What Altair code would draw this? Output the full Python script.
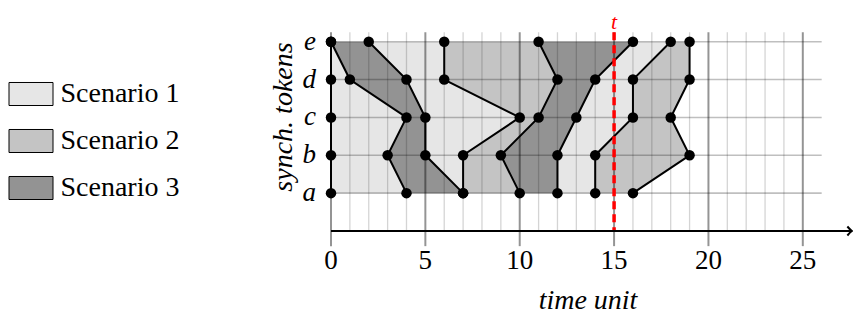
import altair as alt
import pandas as pd

FONT = "Liberation Serif"

# ---- data ----
tokens = ["a", "b", "c", "d", "e"]
# each front: x position (time unit) of the point on rows a, b, c, d, e
fronts = [
    [0, 0, 0, 0, 0],
    [4, 3, 4, 1, 0],
    [7, 5, 5, 4, 2],
    [7, 7, 10, 6, 6],
    [10, 9, 11, 12, 11],
    [12, 12, 13, 14, 16],
    [14, 14, 16, 16, 18],
    [16, 19, 18, 19, 19],
]
scenarios = ["Scenario 1", "Scenario 2", "Scenario 3"]
scenario_colors = ["#e6e6e6", "#c4c4c4", "#939393"]
base_band = (0, 7, "Scenario 1")
bands = [(1, 2, "Scenario 3"), (3, 4, "Scenario 2"), (4, 5, "Scenario 3"), (6, 7, "Scenario 2")]
t_marker = 15
major_ticks = [0, 5, 10, 15, 20, 25]
minor_ticks = [1, 2, 3, 4, 6, 7, 8, 9, 11, 12, 13, 14, 16, 17, 18, 19, 21, 22, 23, 24]
grid_x_end = 26
grid_top = 5.25
major_bottom = -0.4
axis_end = 27.6
x_title = "time unit"
y_title = "synch. tokens"

# ---- tables ----
rows = list(range(1, len(tokens) + 1))
pts = pd.DataFrame([
    {"front": f, "row": r + 1, "x": x}
    for f, arr in enumerate(fronts) for r, x in enumerate(arr)
])


def band_table(spec_list):
    out = []
    for i, (l, rr, sc) in enumerate(spec_list):
        for r in range(len(tokens)):
            out.append({"band": i, "scenario": sc, "row": r + 1,
                        "xl": fronts[l][r], "xr": fronts[rr][r]})
    return pd.DataFrame(out)


base_df = band_table([base_band])
over_df = band_table(bands)
minor_df = pd.DataFrame({"x": minor_ticks, "y0": 0, "y1": grid_top})
major_df = pd.DataFrame({"x": major_ticks, "y0": major_bottom, "y1": grid_top,
                         "label": [str(v) for v in major_ticks]})
hgrid_df = pd.DataFrame({"y": rows, "x0": 0, "x1": grid_x_end, "label": tokens})
t_df = pd.DataFrame({"x": [t_marker], "y0": [grid_top], "y1": [0], "label": ["t"]})
axis_df = pd.DataFrame({"x0": [0], "x1": [axis_end], "y": [0]})
title_df = pd.DataFrame({"label": [x_title]})
ytitle_df = pd.DataFrame({"label": [y_title]})

XS = alt.Scale(domain=[0, 27.66], nice=False, zero=False)
YS = alt.Scale(domain=[0, 5.6], nice=False, zero=False)
FS = alt.Scale(domain=scenarios, range=scenario_colors)

legend = alt.Legend(title=None, orient="none", legendX=-322.5, legendY=52.5,
                    symbolType="M-1,-0.523H1V0.523H-1Z", symbolSize=1936,
                    symbolStrokeColor="black", symbolStrokeWidth=1, symbolOpacity=1,
                    labelFont=FONT, labelFontSize=28, labelColor="black", labelOffset=7,
                    rowPadding=10, padding=0)


def X(f):
    return alt.X(f, scale=XS, axis=None)


def Y(f):
    return alt.Y(f, scale=YS, axis=None)


base = alt.Chart(base_df).mark_area(orient="horizontal", opacity=1).encode(
    x=X("xl:Q"), x2="xr:Q", y=Y("row:Q"),
    fill=alt.Fill("scenario:N", scale=FS, legend=legend),
    detail="band:N",
)
over = alt.Chart(over_df).mark_area(orient="horizontal", opacity=1).encode(
    x=X("xl:Q"), x2="xr:Q", y=Y("row:Q"),
    fill=alt.Fill("scenario:N", scale=FS, legend=legend),
    detail="band:N",
)
minor = alt.Chart(minor_df).mark_rule(color="black", opacity=0.17, strokeWidth=1.3).encode(
    x=X("x:Q"), y=Y("y0:Q"), y2="y1:Q")
hgrid = alt.Chart(hgrid_df).mark_rule(color="black", opacity=0.25, strokeWidth=1.6).encode(
    x=X("x0:Q"), x2="x1:Q", y=Y("y:Q"))
major = alt.Chart(major_df).mark_rule(color="black", opacity=0.42, strokeWidth=2).encode(
    x=X("x:Q"), y=Y("y0:Q"), y2="y1:Q")
red = alt.Chart(t_df).mark_rule(color="#ff0000", strokeWidth=3.5, strokeDash=[8, 5]).encode(
    x=X("x:Q"), y=Y("y0:Q"), y2="y1:Q")
t_text = alt.Chart(t_df).mark_text(color="#ff0000", font=FONT, fontStyle="italic",
                                   fontSize=22, baseline="middle").encode(
    x=X("x:Q"), y=alt.value(2.5), text="label:N")
lines = alt.Chart(pts).mark_line(color="black", strokeWidth=2).encode(
    x=X("x:Q"), y=Y("row:Q"), detail="front:N", order="row:Q")
dots = alt.Chart(pts).mark_circle(color="black", size=110, opacity=1).encode(
    x=X("x:Q"), y=Y("row:Q"))
axis_line = alt.Chart(axis_df).mark_rule(color="black", strokeWidth=2).encode(
    x=X("x0:Q"), x2="x1:Q", y=Y("y:Q"))
arrow = alt.Chart(axis_df).mark_point(shape="M-1,-1Q-0.35,-0.25,0,0Q-0.35,0.25,-1,1",
                                      filled=False, color="black", strokeWidth=2,
                                      size=81, opacity=1).encode(
    x=X("x1:Q"), y=Y("y:Q"))
x_labels = alt.Chart(major_df).mark_text(font=FONT, fontSize=27, color="black",
                                         baseline="middle", align="center").encode(
    x=X("x:Q"), y=alt.value(241.5), text="label:N")
y_labels = alt.Chart(hgrid_df).mark_text(font=FONT, fontSize=27, fontStyle="italic",
                                         color="black", baseline="middle", align="right").encode(
    x=alt.value(-15), y=Y("y:Q"), text="label:N")
x_title_mark = alt.Chart(title_df).mark_text(font=FONT, fontSize=28, fontStyle="italic",
                                             color="black", baseline="middle", align="center").encode(
    x=alt.value(257), y=alt.value(281.5), text="label:N")
y_title_mark = alt.Chart(ytitle_df).mark_text(font=FONT, fontSize=28, fontStyle="italic",
                                              color="black", baseline="middle", align="center",
                                              angle=270).encode(
    x=alt.value(-47), y=alt.value(98), text="label:N")

chart = alt.layer(base, over, minor, hgrid, major, lines, red, dots, axis_line, arrow,
                  t_text, x_labels, y_labels, x_title_mark, y_title_mark).properties(
    width=522, height=212,
    padding={"left": 323, "top": 11, "right": 0, "bottom": 85},
    autosize=alt.AutoSizeParams(type="none"),
).configure_view(stroke=None)

chart.save("out.html", embed_options={"renderer": "svg", "actions": False})
